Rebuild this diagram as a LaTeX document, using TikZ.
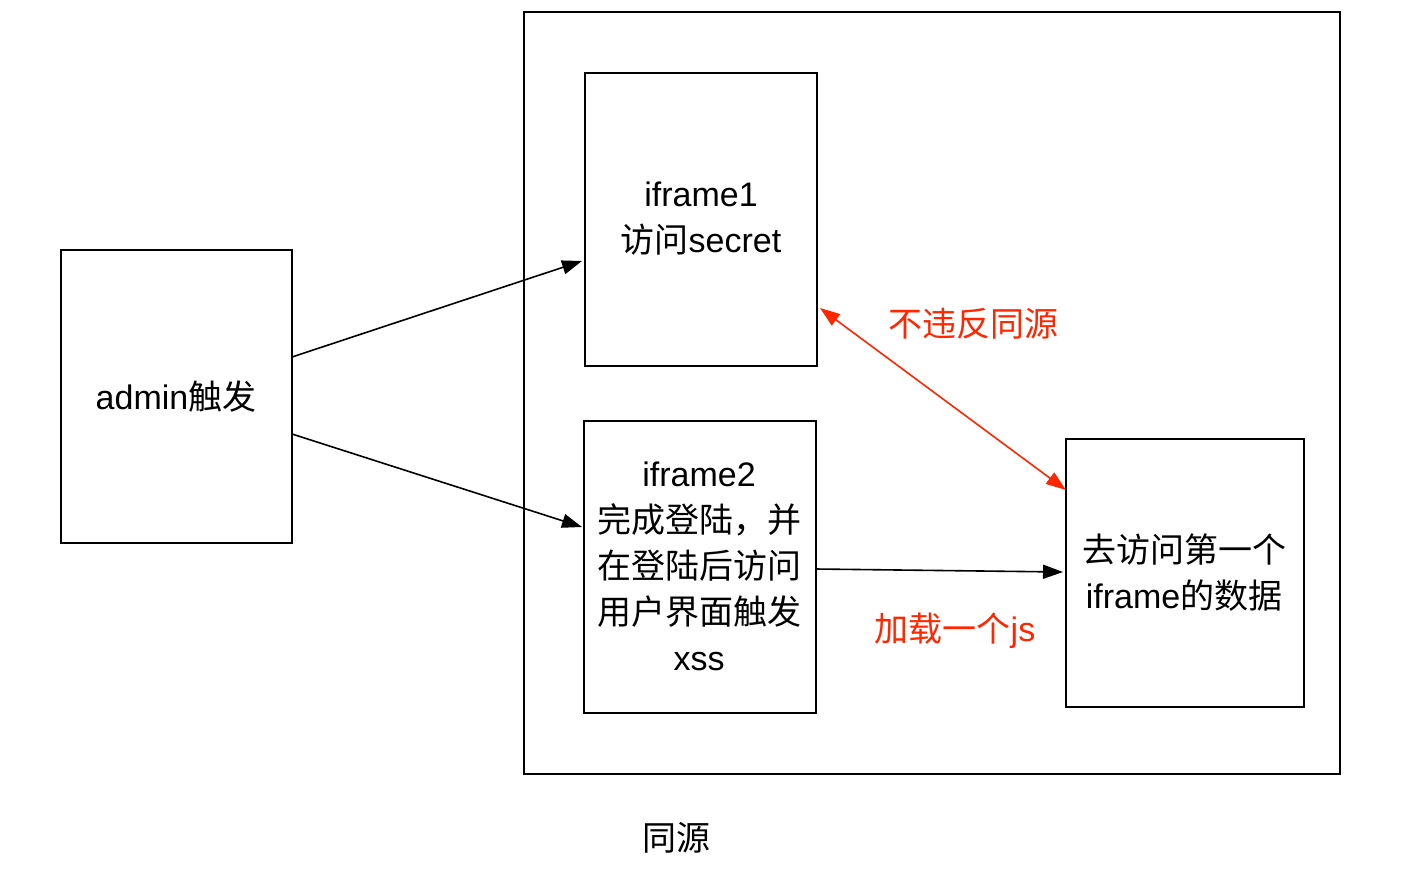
\documentclass[tikz,border=0pt]{standalone}
\usepackage{fontspec}
\setmainfont{Liberation Sans}
\newfontfamily\cjk{Noto Sans CJK SC}
\usetikzlibrary{arrows.meta}
\definecolor{myred}{HTML}{FF2600}
\begin{document}
\begin{tikzpicture}[x=1pt,y=-1pt,
  box/.style={draw=black,line width=2pt},
  lbl/.style={font=\fontsize{34}{46}\selectfont,align=center,inner sep=0pt},
  arr/.style={line width=1.6pt,-{Triangle[length=20pt,width=14pt]}},
  redarr/.style={draw=myred,line width=1.6pt,{Triangle[length=20pt,width=14pt]}-{Triangle[length=20pt,width=14pt]}}]
\useasboundingbox (0,0) rectangle (1420,878);
\draw[box] (524,12) rectangle (1340,774);
\draw[box] (585,73) rectangle (817,366);
\draw[box] (61,250) rectangle (292,543);
\draw[box] (584,421) rectangle (816,713);
\draw[box] (1066,439) rectangle (1304,707);
\node[lbl] (t1) at (701,219) {iframe1\\{\cjk 访问}secret};
\node[lbl] (ta) at (176,397) {admin{\cjk 触发}};
\node[lbl] (t2) at (699,566) {iframe2\\{\cjk 完成登陆，并}\\{\cjk 在登陆后访问}\\{\cjk 用户界面触发}\\xss};
\node[lbl] (t3) at (1184,573) {{\cjk 去访问第一个}\\iframe{\cjk 的数据}};
\node[lbl] (ts) at (676,838) {{\cjk 同源}};
\node[lbl,text=myred] (r1) at (973,324) {{\cjk 不违反同源}};
\node[lbl,text=myred] (r2) at (955,631) {{\cjk 加载一个}js};
\coordinate (a1s) at (292,357); \coordinate (a1e) at (582,261);
\coordinate (a2s) at (292,434); \coordinate (a2e) at (582,527);
\coordinate (a3s) at (816,569); \coordinate (a3e) at (1063,572);
\coordinate (r1s) at (820,308); \coordinate (r1e) at (1066,490);
\draw[arr] (a1s) -- (a1e);
\draw[arr] (a2s) -- (a2e);
\draw[arr] (a3s) -- (a3e);
\draw[redarr] (r1s) -- (r1e);
\end{tikzpicture}
\end{document}
